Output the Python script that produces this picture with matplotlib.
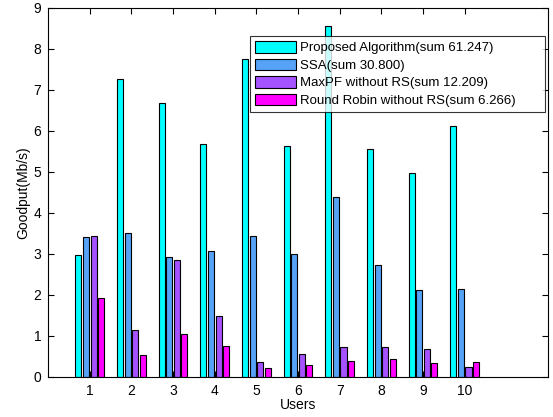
import matplotlib
matplotlib.use("Agg")
import matplotlib.pyplot as plt
import numpy as np

plt.rcParams["font.family"] = ["Liberation Sans", "DejaVu Sans"]

users = [1, 2, 3, 4, 5, 6, 7, 8, 9, 10]
proposed = [2.97, 7.26, 6.68, 5.69, 7.76, 5.64, 8.55, 5.55, 4.97, 6.13]
ssa = [3.42, 3.50, 2.92, 3.06, 3.45, 3.01, 4.40, 2.74, 2.13, 2.14]
maxpf = [3.43, 1.15, 2.86, 1.49, 0.36, 0.56, 0.73, 0.72, 0.67, 0.24]
round_robin = [1.92, 0.53, 1.06, 0.76, 0.21, 0.29, 0.38, 0.43, 0.35, 0.36]

labels = [
    "Proposed Algorithm(sum 61.247)",
    "SSA(sum 30.800)",
    "MaxPF without RS(sum 12.209)",
    "Round Robin without RS(sum 6.266)",
]
colors = ["#00FFFF", "#55A2F7", "#A552FF", "#FF00FF"]

fig = plt.figure(figsize=(5.53, 4.17), dpi=100)
ax = fig.add_axes([0.087, 0.096, 0.904, 0.885])

series = [proposed, ssa, maxpf, round_robin]
step = 0.182
width = 0.145
x = np.array(users)
for i, (vals, lab, col) in enumerate(zip(series, labels, colors)):
    offset = (i - 1.5) * step
    ax.bar(x + offset, vals, width, color=col, edgecolor="black",
           linewidth=0.8, label=lab)

ax.set_xlim(0, 12)
ax.set_ylim(0, 9)
ax.set_xticks(users)
ax.set_yticks(range(0, 10))
ax.tick_params(direction="in", top=True, right=True, labelsize=10, length=4, pad=5)
ax.set_xlabel("Users", fontsize=10, labelpad=0)
ax.set_ylabel("Goodput(Mb/s)", fontsize=10, labelpad=2)

# MATLAB-style legend box with extra room on the right
leg = ax.legend(loc="upper left", bbox_to_anchor=(0.404, 0.924, 0.59, 0.0),
                mode="expand", fontsize=9.5,
                frameon=True, fancybox=False, edgecolor="black",
                handlelength=3.1, handleheight=0.95, handletextpad=0.3,
                labelspacing=0.32, borderpad=0.4, borderaxespad=0)
leg.get_frame().set_linewidth(0.8)

fig.savefig("out.png", dpi=100)
